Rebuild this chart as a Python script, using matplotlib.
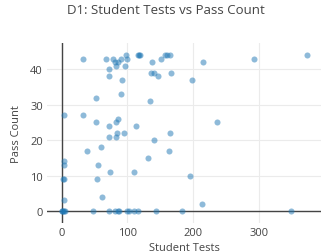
import matplotlib
matplotlib.use("Agg")
import matplotlib.pyplot as plt

plt.rcParams['font.family'] = ['Open Sans', 'DejaVu Sans']

# student tests (x) vs pass count (y)
student_tests = [
    0, 1, 2, 3, 5, 3, 2, 4, 3, 3, 3,
    32, 33, 38, 48, 52, 52, 54, 56, 60, 62,
    67, 72, 72, 72, 72, 72, 74, 78, 81, 81, 82, 82, 83, 84, 85, 85, 86, 88,
    91, 91, 92, 95, 96, 98, 100, 100, 103, 110, 110, 113, 116, 116, 118, 120,
    131, 134, 136, 137, 141, 141, 144, 146, 152, 158, 161, 163, 165, 165, 167,
    183, 195, 198, 213, 216, 236, 293, 349, 374,
]
pass_count = [
    0, 0, 0, 0, 0, 3, 9, 9, 13, 14, 27,
    43, 27, 17, 0, 32, 25, 9, 13, 18, 4,
    43, 0, 40, 38, 24, 21, 11, 43, 42, 0, 41, 25, 21, 22, 42, 0, 26, 0,
    43, 33, 37, 22, 41, 44, 43, 0, 0, 11, 0, 24, 0, 44, 44, 44,
    15, 31, 39, 42, 39, 20, 0, 38, 43, 44, 44, 17, 44, 22, 39,
    0, 10, 37, 2, 42, 25, 43, 0, 44,
]

title = "D1: Student Tests vs Pass Count"
x_label = "Student Tests"
y_label = "Pass Count"
x_ticks = [0, 100, 200, 300]
y_ticks = [0, 10, 20, 30, 40]

text_color = "#444444"

fig = plt.figure(figsize=(3.22, 2.53), dpi=100)
ax = fig.add_axes([47 / 322, 1 - 224 / 253, 274 / 322, 180 / 253])

ax.scatter(student_tests, pass_count, s=19, color="#1f77b4", alpha=0.5,
           linewidths=0, zorder=3)

ax.set_xlim(-22.4, 395)
ax.set_ylim(-3.4, 47.4)
ax.set_xticks(x_ticks)
ax.set_yticks(y_ticks)

ax.grid(True, color="#ebebeb", linewidth=0.8, zorder=0)
ax.axhline(0, color=text_color, linewidth=1, zorder=2)
ax.axvline(0, color=text_color, linewidth=1, zorder=2)

for s in ax.spines.values():
    s.set_visible(False)

ax.tick_params(length=0, labelsize=8, labelcolor=text_color, pad=3)
ax.set_xlabel(x_label, fontsize=8, color=text_color, labelpad=3)
ax.set_ylabel(y_label, fontsize=8, color=text_color, labelpad=6)

fig.text(166 / 322, 1 - 10 / 253, title, ha="center", va="center",
         fontsize=9.5, color=text_color)

fig.savefig("out.png", dpi=100)
